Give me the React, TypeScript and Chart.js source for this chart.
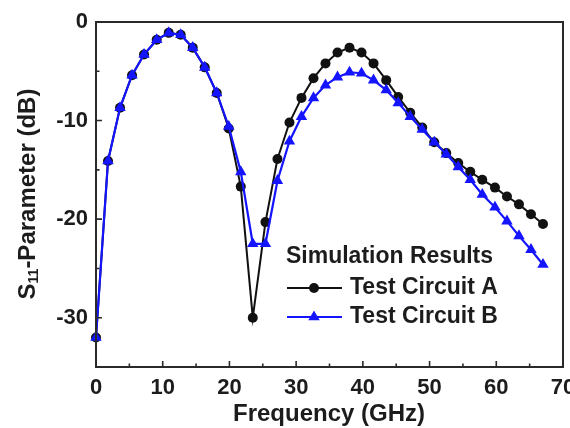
import React, { useEffect, useRef } from "react";
import { Chart, registerables } from "chart.js";

Chart.register(...registerables);

// Frequency sweep points (GHz)
const frequencyGHz = [
  0, 1.8, 3.6, 5.4, 7.2, 9.1, 10.9, 12.7, 14.5, 16.3, 18.1, 19.9, 21.7, 23.5,
  25.4, 27.2, 29.0, 30.8, 32.6, 34.4, 36.2, 38.0, 39.8, 41.6, 43.5, 45.3, 47.1,
  48.9, 50.7, 52.5, 54.3, 56.1, 57.9, 59.8, 61.6, 63.4, 65.2, 67.0,
];

// S11 (dB) for each test circuit
const circuitA = [
  -32, -14.1, -8.7, -5.4, -3.3, -1.8, -1.1, -1.3, -2.6, -4.6, -7.2, -10.8,
  -16.7, -30, -20.3, -13.9, -10.2, -7.7, -5.7, -4.2, -3.1, -2.6, -3.1, -4.2,
  -5.9, -7.6, -9.2, -10.7, -12.2, -13.3, -14.3, -15.2, -16.0, -16.8, -17.7,
  -18.5, -19.5, -20.5,
];
const circuitB = [
  -32, -14.1, -8.7, -5.4, -3.3, -1.8, -1.1, -1.3, -2.6, -4.6, -7.2, -10.6,
  -15.2, -22.5, -22.5, -16.1, -12.1, -9.6, -7.7, -6.4, -5.6, -5.1, -5.2, -5.9,
  -6.9, -8.2, -9.6, -10.9, -12.2, -13.4, -14.7, -16.0, -17.5, -18.8, -20.2,
  -21.7, -23.1, -24.6,
];

const xTickValues = [0, 10, 20, 30, 40, 50, 60, 70];
const xMinorValues = [5, 15, 25, 35, 45, 55, 65];
const yTickValues = [-30, -20, -10, 0];
const yMinorValues = [-35, -25, -15, -5];

const legendTitle = "Simulation Results";
const seriesNames = ["Test Circuit A", "Test Circuit B"];
const xTitle = "Frequency (GHz)";

const FONT = "'Liberation Sans', Arial, sans-serif";
const TEXT = "#1c1c1c";
const BLUE = "#1414ff";
const BLACK = "#111111";
const CIRCLE_R = 5;
const TRIANGLE_R = 6.6;

function drawMarker(ctx: CanvasRenderingContext2D, kind: string, x: number, y: number, color: string) {
  ctx.fillStyle = color;
  ctx.beginPath();
  if (kind === "circle") {
    ctx.arc(x, y, CIRCLE_R, 0, Math.PI * 2);
  } else {
    const r = TRIANGLE_R;
    ctx.moveTo(x, y - r);
    ctx.lineTo(x + r * Math.sin(Math.PI / 3), y + r * 0.5);
    ctx.lineTo(x - r * Math.sin(Math.PI / 3), y + r * 0.5);
    ctx.closePath();
  }
  ctx.fill();
}

const decorPlugin = {
  id: "decor",
  afterDraw(chart: any) {
    const ctx: CanvasRenderingContext2D = chart.ctx;
    const { left, right, top, bottom } = chart.chartArea;
    const xs = chart.scales.x;
    const ys = chart.scales.y;
    ctx.save();

    // frame
    ctx.strokeStyle = "#2a2a2a";
    ctx.lineWidth = 2;
    ctx.strokeRect(left, top, right - left, bottom - top);

    // inward tick marks
    ctx.lineWidth = 1.6;
    ctx.beginPath();
    for (const v of xTickValues) {
      const px = xs.getPixelForValue(v);
      ctx.moveTo(px, bottom);
      ctx.lineTo(px, bottom - 6);
    }
    for (const v of xMinorValues) {
      const px = xs.getPixelForValue(v);
      ctx.moveTo(px, bottom);
      ctx.lineTo(px, bottom - 3.5);
    }
    for (const v of yTickValues) {
      const py = ys.getPixelForValue(v);
      ctx.moveTo(left, py);
      ctx.lineTo(left + 6, py);
    }
    for (const v of yMinorValues) {
      const py = ys.getPixelForValue(v);
      ctx.moveTo(left, py);
      ctx.lineTo(left + 3.5, py);
    }
    ctx.stroke();

    // x axis title
    ctx.fillStyle = TEXT;
    ctx.font = `bold 24px ${FONT}`;
    ctx.textAlign = "center";
    ctx.textBaseline = "middle";
    ctx.fillText(xTitle, 329, 414);

    // y axis title with subscript
    ctx.save();
    ctx.translate(28, 194);
    ctx.rotate(-Math.PI / 2);
    ctx.textAlign = "left";
    const mainFont = `bold 24px ${FONT}`;
    const subFont = `bold 14px ${FONT}`;
    ctx.font = mainFont;
    const wS = ctx.measureText("S").width;
    const rest = "-Parameter (dB)";
    const wRest = ctx.measureText(rest).width;
    ctx.font = subFont;
    const wSub = ctx.measureText("11").width;
    let cx = -(wS + wSub + wRest) / 2;
    ctx.font = mainFont;
    ctx.fillText("S", cx, 0);
    cx += wS;
    ctx.font = subFont;
    ctx.fillText("11", cx, 6);
    cx += wSub;
    ctx.font = mainFont;
    ctx.fillText(rest, cx, 0);
    ctx.restore();

    // legend
    ctx.textAlign = "left";
    ctx.textBaseline = "middle";
    ctx.font = `bold 23px ${FONT}`;
    ctx.fillStyle = TEXT;
    ctx.fillText(legendTitle, 286, 257);
    const entries = [
      { name: seriesNames[0], color: BLACK, kind: "circle", y: 288 },
      { name: seriesNames[1], color: BLUE, kind: "triangle", y: 317 },
    ];
    for (const e of entries) {
      ctx.strokeStyle = e.color;
      ctx.lineWidth = 2;
      ctx.beginPath();
      ctx.moveTo(287, e.y);
      ctx.lineTo(342, e.y);
      ctx.stroke();
      drawMarker(ctx, e.kind, 314, e.y, e.color);
      ctx.fillStyle = TEXT;
      ctx.fillText(e.name, 350, e.y);
    }
    ctx.restore();
  },
};

export default function App() {
  const canvasRef = useRef<HTMLCanvasElement | null>(null);

  useEffect(() => {
    const canvas = canvasRef.current;
    if (!canvas) return;
    const pointsA = frequencyGHz.map((f, i) => ({ x: f, y: circuitA[i] }));
    const pointsB = frequencyGHz.map((f, i) => ({ x: f, y: circuitB[i] }));

    const chart = new Chart(canvas, {
      type: "line",
      data: {
        datasets: [
          {
            label: seriesNames[1],
            data: pointsB,
            borderColor: BLUE,
            backgroundColor: BLUE,
            borderWidth: 2.2,
            pointStyle: "triangle",
            pointRadius: TRIANGLE_R,
            pointBorderWidth: 0,
            tension: 0,
            clip: false as any,
          },
          {
            label: seriesNames[0],
            data: pointsA,
            borderColor: BLACK,
            backgroundColor: BLACK,
            borderWidth: 2,
            pointStyle: "circle",
            pointRadius: CIRCLE_R,
            pointBorderWidth: 0,
            tension: 0,
            clip: false as any,
          },
        ],
      },
      plugins: [decorPlugin],
      options: {
        animation: false,
        responsive: false,
        devicePixelRatio: 1,
        layout: { padding: { left: 0, top: 22, right: 7, bottom: 0 } },
        plugins: {
          legend: { display: false },
          tooltip: { enabled: false },
        },
        scales: {
          x: {
            type: "linear",
            min: 0,
            max: 70,
            grid: { display: false, drawTicks: false },
            border: { display: false },
            afterBuildTicks: (s: any) => {
              s.ticks = xTickValues.map((v) => ({ value: v }));
            },
            afterFit: (s: any) => {
              s.height = 61;
              s.paddingLeft = 0;
              s.paddingRight = 0;
            },
            ticks: {
              padding: 8,
              maxRotation: 0,
              autoSkip: false,
              color: TEXT,
              font: { family: FONT, size: 22, weight: "bold" },
            },
          },
          y: {
            type: "linear",
            min: -35,
            max: 0,
            grid: { display: false, drawTicks: false },
            border: { display: false },
            afterBuildTicks: (s: any) => {
              s.ticks = yTickValues.map((v) => ({ value: v }));
            },
            afterFit: (s: any) => {
              s.width = 96;
              s.paddingTop = 0;
              s.paddingBottom = 0;
            },
            ticks: {
              padding: 8,
              color: TEXT,
              font: { family: FONT, size: 22, weight: "bold" },
            },
          },
        },
      } as any,
    });
    return () => chart.destroy();
  }, []);

  return (
    <div style={{ position: "fixed", left: 0, top: 0, width: 570, height: 428, background: "#fff" }}>
      <canvas ref={canvasRef} width={570} height={428} />
    </div>
  );
}
